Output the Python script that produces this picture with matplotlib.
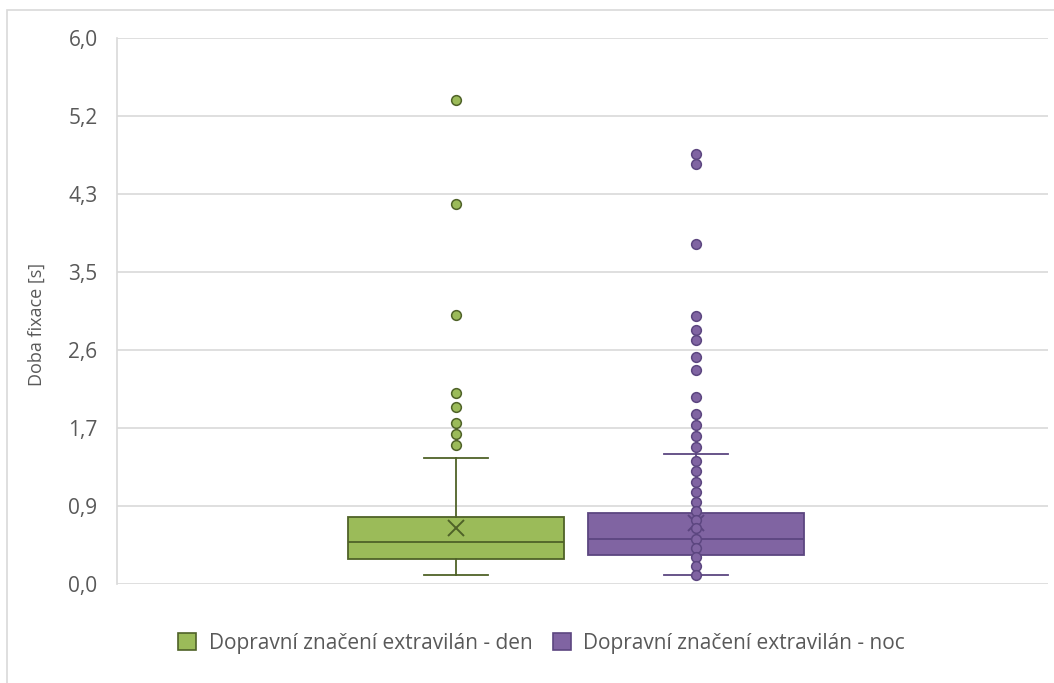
import numpy as np
import matplotlib

matplotlib.use("Agg")
import matplotlib.pyplot as plt
from matplotlib.patches import Patch, Rectangle

plt.rcParams["font.family"] = ["Open Sans", "DejaVu Sans"]

SERIES = ["Dopravní značení extravilán - den", "Dopravní značení extravilán - noc"]
FACE = ["#9bbb59", "#8064a2"]
EDGE = ["#4f6228", "#5c4680"]

# box statistics (seconds)
Q1 = [0.27, 0.32]
MED = [0.46, 0.50]
Q3 = [0.74, 0.78]
MEAN = [0.61, 0.67]
WHISK_LO = [0.10, 0.10]
WHISK_HI = [1.38, 1.43]

OUT_DEN = [5.32, 4.18, 2.96, 2.10, 1.95, 1.77, 1.65, 1.53]
OUT_NOC = [4.72, 4.61, 3.74, 2.95, 2.79, 2.68, 2.49, 2.35, 2.06, 1.87,
           1.75, 1.63, 1.51]
# inner points shown for the night series only
INNER_NOC = [1.35, 1.24, 1.125, 1.01, 0.905, 0.806, 0.70, 0.61, 0.50,
             0.40, 0.30, 0.20, 0.10]

YTICKS = [i * 6 / 7 for i in range(8)]
YTICK_LABELS = ["0,0", "0,9", "1,7", "2,6", "3,5", "4,3", "5,2", "6,0"]

GRID = "#d9d9d9"
TEXT = "#595959"


def main():
    fig = plt.figure(figsize=(10.54, 6.83), dpi=100)
    ax = fig.add_axes([117 / 1054, 99 / 683, 931 / 1054, 546 / 683])

    outliers = [OUT_DEN, OUT_NOC]
    for k in range(2):
        stats = [{
            "med": MED[k], "q1": Q1[k], "q3": Q3[k],
            "whislo": WHISK_LO[k], "whishi": WHISK_HI[k],
            "mean": MEAN[k], "fliers": outliers[k],
        }]
        ax.bxp(
            stats, positions=[k + 1], widths=0.904, capwidths=0.265,
            patch_artist=True, showmeans=True, showfliers=True,
            boxprops=dict(facecolor=FACE[k], edgecolor=EDGE[k], linewidth=1.3),
            medianprops=dict(color=EDGE[k], linewidth=1.3),
            whiskerprops=dict(color=EDGE[k], linewidth=1.3),
            capprops=dict(color=EDGE[k], linewidth=1.3),
            meanprops=dict(marker="x", markeredgecolor=EDGE[k], markersize=11,
                           markeredgewidth=1.4),
            flierprops=dict(marker="o", markerfacecolor=FACE[k],
                            markeredgecolor=EDGE[k], markersize=7,
                            markeredgewidth=1.1),
            zorder=3,
        )

    ax.plot([2] * len(INNER_NOC), INNER_NOC, "o", color=FACE[1],
            markeredgecolor=EDGE[1], markersize=7, markeredgewidth=1.1,
            zorder=4)

    ax.set_xlim(-0.4125, 3.4667)
    ax.set_ylim(0, 6)
    ax.set_yticks(YTICKS)
    ax.set_yticklabels(YTICK_LABELS, fontsize=15, color=TEXT)
    ax.set_xticks([])
    ax.tick_params(axis="y", length=0, pad=14)
    ax.yaxis.grid(True, color=GRID, linewidth=1.2, zorder=0)
    ax.set_axisbelow(True)
    for side in ["top", "right", "bottom"]:
        ax.spines[side].set_visible(False)
    ax.spines["left"].set_color(GRID)
    ax.spines["left"].set_linewidth(1.2)
    ax.set_ylabel("Doba fixace [s]", fontsize=13, color=TEXT)
    ax.yaxis.set_label_coords(-0.076, 0.476)

    handles = [Patch(facecolor=FACE[k], edgecolor=EDGE[k], linewidth=1.2,
                     label=SERIES[k]) for k in range(2)]
    fig.legend(handles=handles, loc="center", bbox_to_anchor=(0.514, 0.058),
               ncol=2, frameon=False, fontsize=15, labelcolor=TEXT,
               handlelength=0.85, handleheight=0.85, handletextpad=0.6,
               columnspacing=1.0)

    fig.patches.append(Rectangle((7 / 1054, -0.1), 1.2, (673 / 683) + 0.1,
                                 transform=fig.transFigure, fill=False,
                                 edgecolor=GRID, linewidth=1.2))

    fig.savefig("out.png", dpi=100)


if __name__ == "__main__":
    main()
